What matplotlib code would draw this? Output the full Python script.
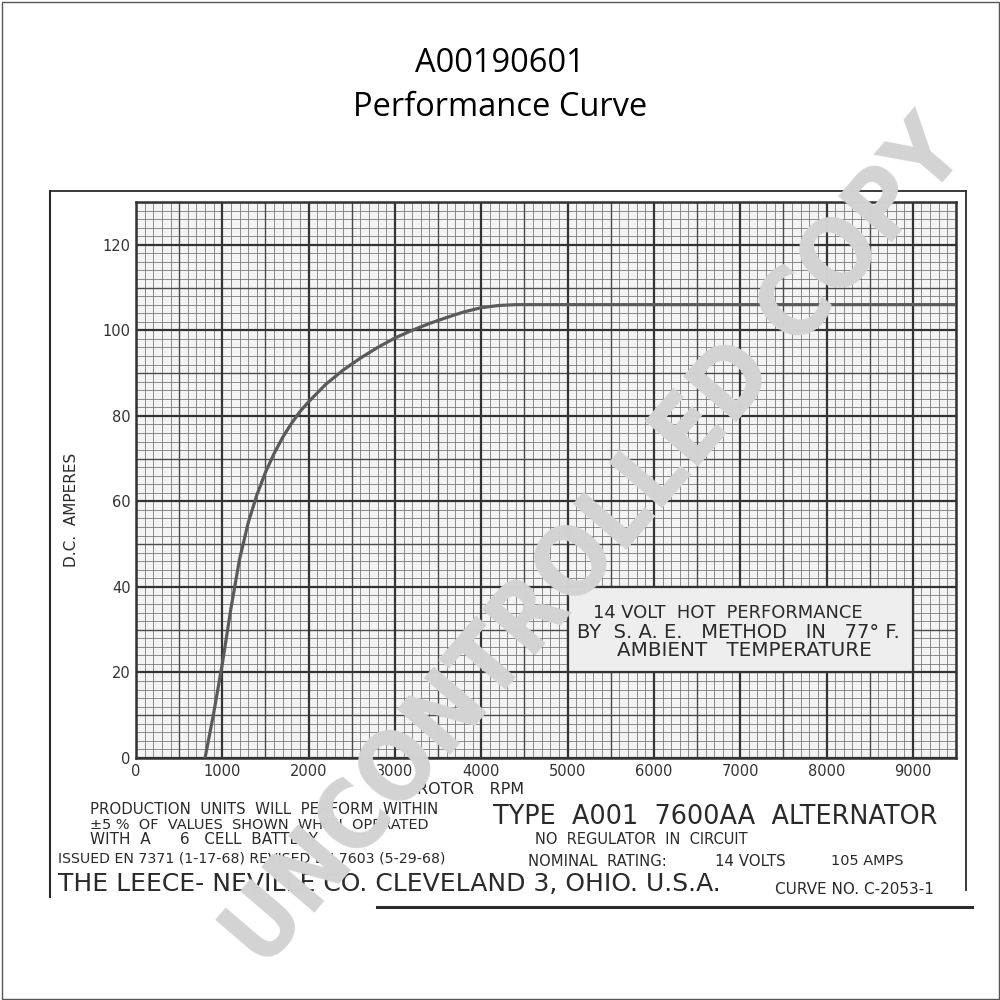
import matplotlib
matplotlib.use("Agg")
import numpy as np
import matplotlib.pyplot as plt
from matplotlib import font_manager
from matplotlib.font_manager import FontProperties
from matplotlib.lines import Line2D
from matplotlib.patches import Rectangle

# Curve: rotor rpm vs D.C. amperes
rpm = [800, 900, 1000, 1100, 1200, 1300, 1400, 1500, 1600, 1700, 1800, 1900, 2000,
       2200, 2400, 2600, 2800, 3000, 3200, 3400, 3600, 3800, 4000, 4200, 4400,
       5000, 6000, 7000, 8000, 9000, 9500]
amps = [0, 10.5, 22, 35, 46.5, 55, 61.5, 66.8, 71.2, 75, 78.2, 81, 83.3,
        87.4, 90.7, 93.5, 96, 98.2, 100, 101.6, 103, 104.3, 105.3, 105.8, 106,
        106, 106, 106, 106, 106, 106]

x_ticks = [0, 1000, 2000, 3000, 4000, 5000, 6000, 7000, 8000, 9000]
y_ticks = [0, 20, 40, 60, 80, 100, 120]

# a condensed bold face for the watermark if one is installed
wm_font = FontProperties(family="DejaVu Sans", weight="bold")
for f in font_manager.fontManager.ttflist:
    w = f.weight if isinstance(f.weight, int) else {"bold": 700}.get(f.weight, 400)
    if "condensed" in str(f.stretch) and w >= 600 and "Sans" in f.name:
        wm_font = FontProperties(fname=f.fname)
        break

fig = plt.figure(figsize=(10, 10), dpi=100)
renderer = fig.canvas.get_renderer()


def fx(px):
    return px / 1000


def fy(py):
    return 1 - py / 1000


def lettering(x0, x1, y, s, size, **kw):
    # place text from x0 and scale it so it ends at x1 (pixels)
    kw.setdefault("color", "#2a2a2a")
    kw.setdefault("family", "DejaVu Sans")
    t = fig.text(fx(x0), fy(y), s, fontsize=size, ha="left", va="center", **kw)
    w = t.get_window_extent(renderer).width
    t.set_fontsize(size * (x1 - x0) / w)
    return t


# title
fig.text(0.5, fy(64), "A00190601", ha="center", va="center", fontsize=23.5, family="Open Sans")
fig.text(0.5, fy(108), "Performance Curve", ha="center", va="center", fontsize=23.5, family="Open Sans")

# graph paper
ax = fig.add_axes([fx(136), fy(758), (956 - 136) / 1000, (758 - 202) / 1000])
ax.set_xlim(0, 9500)
ax.set_ylim(0, 130)
ax.set_facecolor("#f4f4f4")

ax.vlines(np.arange(0, 9501, 100), 0, 130, color="#707070", lw=0.55, zorder=1)
ax.hlines(np.arange(0, 131, 2), 0, 9500, color="#707070", lw=0.55, zorder=1)
ax.vlines(np.arange(500, 9501, 1000), 0, 130, color="#4a4a4a", lw=1.0, zorder=1)
ax.hlines(np.arange(10, 131, 20), 0, 9500, color="#4a4a4a", lw=1.0, zorder=1)
ax.vlines(np.arange(0, 9501, 1000), 0, 130, color="#333333", lw=1.6, zorder=1)
ax.hlines(np.arange(0, 131, 20), 0, 9500, color="#333333", lw=1.6, zorder=1)

for sp in ax.spines.values():
    sp.set_color("#333333")
    sp.set_linewidth(1.8)

ax.set_xticks(x_ticks)
ax.set_yticks(y_ticks)
ax.tick_params(length=0, labelsize=10.5, labelcolor="#333333", pad=4)

# note box on the paper
ax.add_patch(Rectangle((5000, 20), 4000, 20, facecolor="#eeeeee",
                       edgecolor="#333333", lw=1.6, zorder=2))
ax.plot(rpm, amps, color="#5a5a5a", lw=2.3, solid_capstyle="round",
        solid_joinstyle="round", zorder=3)

lettering(593, 863, 613, "14 VOLT  HOT  PERFORMANCE", 11)
lettering(577, 899, 632, "BY  S. A. E.   METHOD   IN   77° F.", 11)
lettering(617, 871, 650, "AMBIENT   TEMPERATURE", 11)

# axis captions
fig.text(fx(72), fy(510), "D.C.  AMPERES", rotation=90, ha="center", va="center",
         fontsize=11, color="#2a2a2a")
fig.text(fx(471), fy(790), "ROTOR   RPM", ha="center", va="center",
         fontsize=11.5, color="#2a2a2a")

# lettering under the chart
lettering(90, 438, 810, "PRODUCTION  UNITS  WILL  PERFORM  WITHIN", 9)
lettering(90, 430, 825, "±5 %  OF  VALUES  SHOWN  WHEN  OPERATED", 9)
lettering(90, 318, 839, "WITH  A      6   CELL  BATTERY", 9)
lettering(58, 443, 858, "ISSUED EN 7371 (1-17-68) REVISED EN 7603 (5-29-68)", 10)
lettering(58, 718, 884, "THE LEECE- NEVILLE CO. CLEVELAND 3, OHIO. U.S.A.", 16)
lettering(493, 938, 817, "TYPE  A001  7600AA  ALTERNATOR", 17)
lettering(535, 748, 840, "NO  REGULATOR  IN  CIRCUIT", 9.5)
lettering(528, 665, 861, "NOMINAL  RATING:", 9.5)
lettering(715, 786, 861, "14 VOLTS", 9.5)
lettering(831, 904, 861, "105 AMPS", 9.5)
lettering(775, 935, 889, "CURVE NO. C-2053-1", 9.5)

# scanned sheet frame and page border
frame = [((50, 966), (191, 191), 1.3), ((50, 50), (191, 897), 1.5),
         ((966, 966), (191, 890), 1.3), ((377, 972), (907, 907), 2.2)]
for xs, ys, lw in frame:
    fig.add_artist(Line2D([fx(v) for v in xs], [fy(v) for v in ys],
                          color="#2a2a2a", lw=lw))
fig.add_artist(Rectangle((0.0015, 0.0015), 0.997, 0.997, fill=False,
                         edgecolor="#555555", lw=1.0))

# watermark
wm = fig.text(fx(596), fy(545), "UNCONTROLLED COPY", ha="center", va="center",
              fontproperties=wm_font, color="#d3d3d3", zorder=20)
wm.set_fontsize(80)
w = wm.get_window_extent(renderer).width
wm.set_fontsize(80 * 1080 / w)
wm.set_rotation(49.3)
wm.set_rotation_mode("anchor")

fig.savefig("out.png", dpi=100)
